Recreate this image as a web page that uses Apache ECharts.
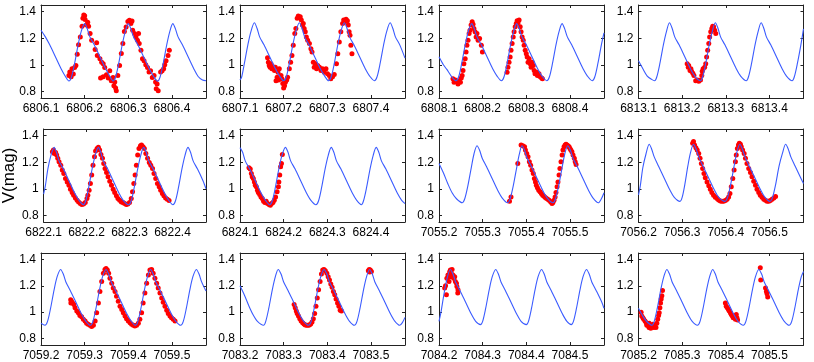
<!DOCTYPE html>
<html>
<head>
<meta charset="utf-8">
<script src="https://cdn.jsdelivr.net/npm/echarts@6/dist/echarts.min.js"></script>
<style>
  html, body { margin: 0; padding: 0; background: #fff; }
  #main { width: 814px; height: 362px; }
</style>
</head>
<body>
<div id="main"></div>
<script>
// left edge (HJD-2450000) of every panel, x data below are offsets from it
var startDays = [6806.1, 6807.1, 6808.1, 6813.1, 6822.1, 6824.1, 7055.2, 7056.2, 7059.2, 7083.2, 7084.2, 7085.2];
var xTicks = [0, 0.1, 0.2, 0.3];
var yTicks = [0.8, 1, 1.2, 1.4];

// model light curves (blue)
var curve6806 = [[0,1.26],[0.010,1.21],[0.020,1.15],[0.033,1.06],[0.046,0.97],[0.056,0.912],[0.064,0.878],[0.070,0.91],[0.077,1.01],[0.085,1.15],[0.092,1.25],[0.100,1.31],[0.106,1.27],[0.112,1.21],[0.122,1.15],[0.135,1.06],[0.148,0.97],[0.158,0.912],[0.165,0.878],[0.171,0.91],[0.178,1.01],[0.186,1.15],[0.193,1.25],[0.200,1.31],[0.206,1.27],[0.212,1.21],[0.222,1.15],[0.235,1.06],[0.248,0.97],[0.258,0.912],[0.267,0.876],[0.273,0.91],[0.280,1.01],[0.288,1.15],[0.295,1.25],[0.302,1.31],[0.308,1.27],[0.314,1.21],[0.324,1.15],[0.337,1.06],[0.350,0.97],[0.360,0.912],[0.370,0.885],[0.378,0.88]];
var curve6807 = [[0,0.885],[0.004,0.91],[0.010,1.01],[0.018,1.15],[0.025,1.25],[0.033,1.316],[0.039,1.275],[0.045,1.21],[0.055,1.15],[0.068,1.06],[0.081,0.97],[0.091,0.915],[0.100,0.88],[0.106,0.91],[0.113,1.01],[0.121,1.15],[0.128,1.25],[0.136,1.316],[0.142,1.275],[0.148,1.21],[0.158,1.15],[0.171,1.06],[0.184,0.97],[0.194,0.915],[0.203,0.88],[0.209,0.91],[0.216,1.01],[0.224,1.15],[0.231,1.25],[0.239,1.316],[0.245,1.275],[0.251,1.21],[0.261,1.15],[0.274,1.06],[0.287,0.97],[0.297,0.915],[0.308,0.88],[0.314,0.91],[0.321,1.01],[0.329,1.15],[0.336,1.25],[0.344,1.316],[0.350,1.275],[0.356,1.21],[0.366,1.15],[0.378,1.05]];
var curve6808 = [[0,1.06],[0.010,1.0],[0.018,0.965],[0.028,0.915],[0.039,0.88],[0.045,0.91],[0.052,1.01],[0.060,1.15],[0.067,1.25],[0.075,1.31],[0.081,1.27],[0.087,1.21],[0.097,1.15],[0.110,1.06],[0.123,0.97],[0.133,0.915],[0.143,0.88],[0.149,0.91],[0.156,1.01],[0.164,1.15],[0.171,1.25],[0.178,1.31],[0.184,1.27],[0.190,1.21],[0.200,1.15],[0.213,1.06],[0.226,0.97],[0.236,0.915],[0.247,0.88],[0.253,0.91],[0.260,1.01],[0.268,1.15],[0.275,1.25],[0.282,1.31],[0.288,1.27],[0.294,1.21],[0.304,1.15],[0.317,1.06],[0.330,0.97],[0.340,0.915],[0.351,0.88],[0.357,0.91],[0.364,1.01],[0.372,1.15],[0.378,1.24]];
var curve6813 = [[0,1.03],[0.010,0.97],[0.020,0.915],[0.030,0.89],[0.037,0.88],[0.042,0.91],[0.049,1.01],[0.057,1.15],[0.064,1.25],[0.071,1.316],[0.077,1.275],[0.083,1.21],[0.093,1.15],[0.106,1.06],[0.119,0.97],[0.129,0.915],[0.142,0.88],[0.147,0.91],[0.154,1.01],[0.162,1.15],[0.169,1.25],[0.176,1.316],[0.182,1.275],[0.188,1.21],[0.198,1.15],[0.211,1.06],[0.224,0.97],[0.234,0.915],[0.247,0.88],[0.252,0.91],[0.259,1.01],[0.267,1.15],[0.274,1.25],[0.281,1.316],[0.287,1.275],[0.293,1.21],[0.303,1.15],[0.316,1.06],[0.329,0.97],[0.339,0.915],[0.352,0.88],[0.357,0.91],[0.364,1.01],[0.372,1.15],[0.378,1.27]];
var curve6822 = [[0,0.96],[0.004,1.02],[0.010,1.15],[0.017,1.25],[0.0245,1.312],[0.030,1.275],[0.036,1.21],[0.046,1.15],[0.059,1.06],[0.072,0.97],[0.082,0.915],[0.093,0.88],[0.098,0.91],[0.105,1.01],[0.113,1.15],[0.120,1.25],[0.1275,1.312],[0.133,1.275],[0.139,1.21],[0.149,1.15],[0.162,1.06],[0.175,0.97],[0.185,0.915],[0.198,0.88],[0.204,0.91],[0.211,1.01],[0.219,1.15],[0.226,1.25],[0.233,1.312],[0.239,1.275],[0.245,1.21],[0.255,1.15],[0.268,1.06],[0.281,0.97],[0.291,0.915],[0.301,0.88],[0.307,0.91],[0.314,1.01],[0.322,1.15],[0.329,1.25],[0.336,1.312],[0.342,1.275],[0.348,1.21],[0.358,1.15],[0.371,1.06],[0.378,1.0]];
var curve6824 = [[0,1.31],[0.006,1.275],[0.012,1.21],[0.022,1.15],[0.035,1.06],[0.048,0.97],[0.058,0.915],[0.068,0.88],[0.074,0.91],[0.081,1.01],[0.089,1.15],[0.096,1.25],[0.104,1.312],[0.110,1.275],[0.116,1.21],[0.126,1.15],[0.139,1.06],[0.152,0.97],[0.162,0.915],[0.174,0.88],[0.180,0.91],[0.187,1.01],[0.195,1.15],[0.202,1.25],[0.209,1.312],[0.215,1.275],[0.221,1.21],[0.231,1.15],[0.244,1.06],[0.257,0.97],[0.267,0.915],[0.278,0.88],[0.283,0.91],[0.290,1.01],[0.298,1.15],[0.305,1.25],[0.312,1.312],[0.318,1.275],[0.324,1.21],[0.334,1.15],[0.347,1.06],[0.360,0.97],[0.370,0.915],[0.378,0.888]];
var curve7055 = [[0,1.19],[0.010,1.12],[0.020,1.04],[0.030,0.97],[0.040,0.925],[0.053,0.895],[0.059,0.925],[0.066,1.02],[0.074,1.16],[0.080,1.26],[0.087,1.324],[0.093,1.29],[0.099,1.23],[0.109,1.165],[0.122,1.075],[0.135,0.985],[0.145,0.93],[0.157,0.895],[0.163,0.925],[0.170,1.02],[0.178,1.16],[0.184,1.26],[0.190,1.324],[0.196,1.29],[0.202,1.23],[0.212,1.165],[0.225,1.075],[0.238,0.985],[0.248,0.93],[0.261,0.895],[0.267,0.925],[0.274,1.02],[0.282,1.16],[0.288,1.26],[0.295,1.324],[0.301,1.29],[0.307,1.23],[0.317,1.165],[0.330,1.075],[0.343,0.985],[0.353,0.93],[0.365,0.895],[0.372,0.925],[0.378,0.97]];
var curve7056 = [[0,0.955],[0.004,1.02],[0.010,1.16],[0.017,1.26],[0.0245,1.335],[0.030,1.30],[0.036,1.24],[0.046,1.17],[0.059,1.08],[0.072,0.99],[0.082,0.935],[0.095,0.905],[0.100,0.935],[0.106,1.03],[0.113,1.17],[0.119,1.27],[0.126,1.335],[0.132,1.30],[0.138,1.24],[0.148,1.17],[0.161,1.08],[0.174,0.99],[0.184,0.935],[0.198,0.905],[0.204,0.935],[0.211,1.03],[0.219,1.17],[0.225,1.27],[0.232,1.335],[0.238,1.30],[0.244,1.24],[0.254,1.17],[0.267,1.08],[0.280,0.99],[0.290,0.935],[0.301,0.905],[0.307,0.935],[0.314,1.03],[0.322,1.17],[0.330,1.27],[0.337,1.335],[0.343,1.30],[0.349,1.24],[0.359,1.17],[0.372,1.08],[0.378,1.04]];
var curve7059 = [[0,0.915],[0.009,0.90],[0.015,0.93],[0.022,1.03],[0.030,1.17],[0.037,1.27],[0.045,1.325],[0.051,1.29],[0.057,1.23],[0.067,1.165],[0.080,1.075],[0.093,0.985],[0.103,0.93],[0.113,0.90],[0.119,0.93],[0.126,1.03],[0.134,1.17],[0.141,1.27],[0.149,1.325],[0.155,1.29],[0.161,1.23],[0.171,1.165],[0.184,1.075],[0.197,0.985],[0.207,0.93],[0.216,0.90],[0.222,0.93],[0.229,1.03],[0.237,1.17],[0.244,1.27],[0.251,1.325],[0.257,1.29],[0.263,1.23],[0.273,1.165],[0.286,1.075],[0.299,0.985],[0.309,0.93],[0.320,0.90],[0.326,0.93],[0.333,1.03],[0.341,1.17],[0.348,1.27],[0.356,1.325],[0.362,1.29],[0.368,1.23],[0.378,1.16]];
var curve7083 = [[0,1.20],[0.010,1.13],[0.020,1.05],[0.030,0.98],[0.040,0.93],[0.054,0.90],[0.059,0.93],[0.066,1.03],[0.074,1.17],[0.081,1.27],[0.0875,1.325],[0.094,1.29],[0.100,1.23],[0.110,1.165],[0.123,1.075],[0.136,0.985],[0.146,0.93],[0.157,0.90],[0.163,0.93],[0.170,1.03],[0.178,1.17],[0.185,1.27],[0.1925,1.325],[0.199,1.29],[0.205,1.23],[0.215,1.165],[0.228,1.075],[0.241,0.985],[0.251,0.93],[0.262,0.90],[0.268,0.93],[0.275,1.03],[0.283,1.17],[0.290,1.27],[0.297,1.325],[0.303,1.29],[0.309,1.23],[0.319,1.165],[0.332,1.075],[0.345,0.985],[0.355,0.93],[0.366,0.90],[0.372,0.92],[0.378,0.96]];
var curve7084 = [[0,0.93],[0.004,0.99],[0.011,1.13],[0.018,1.25],[0.026,1.325],[0.032,1.29],[0.038,1.23],[0.048,1.165],[0.061,1.075],[0.074,0.985],[0.084,0.93],[0.095,0.905],[0.100,0.93],[0.107,1.03],[0.115,1.17],[0.122,1.27],[0.130,1.325],[0.136,1.29],[0.142,1.23],[0.152,1.165],[0.165,1.075],[0.178,0.985],[0.188,0.93],[0.200,0.905],[0.205,0.93],[0.212,1.03],[0.220,1.17],[0.227,1.27],[0.235,1.325],[0.241,1.29],[0.247,1.23],[0.257,1.165],[0.270,1.075],[0.283,0.985],[0.293,0.93],[0.303,0.905],[0.308,0.93],[0.315,1.03],[0.323,1.17],[0.330,1.27],[0.338,1.325],[0.344,1.29],[0.350,1.23],[0.360,1.165],[0.373,1.075],[0.378,1.03]];
var curve7085 = [[0,1.03],[0.010,0.97],[0.020,0.925],[0.031,0.90],[0.036,0.93],[0.043,1.03],[0.051,1.17],[0.058,1.27],[0.065,1.325],[0.071,1.29],[0.077,1.23],[0.087,1.165],[0.100,1.075],[0.113,0.985],[0.123,0.93],[0.135,0.90],[0.141,0.93],[0.148,1.03],[0.156,1.17],[0.163,1.27],[0.170,1.325],[0.176,1.29],[0.182,1.23],[0.192,1.165],[0.205,1.075],[0.218,0.985],[0.228,0.93],[0.240,0.90],[0.246,0.93],[0.253,1.03],[0.261,1.17],[0.268,1.27],[0.2755,1.325],[0.282,1.29],[0.288,1.23],[0.298,1.165],[0.311,1.075],[0.324,0.985],[0.334,0.93],[0.345,0.90],[0.351,0.93],[0.358,1.03],[0.366,1.17],[0.373,1.27],[0.378,1.31]];

// observations (red)
var obs6806 = [[0.064,0.92],[0.066,0.945],[0.069,0.91],[0.071,0.97],[0.074,0.93],[0.077,0.98],[0.080,0.995],[0.083,1.08],[0.086,1.15],[0.090,1.21],[0.094,1.29],[0.096,1.35],[0.098,1.375],[0.100,1.37],[0.101,1.34],[0.104,1.30],[0.107,1.32],[0.109,1.29],[0.1125,1.235],[0.116,1.185],[0.1275,1.165],[0.124,1.115],[0.129,1.07],[0.135,1.045],[0.139,1.02],[0.1425,1.008],[0.146,0.98],[0.1365,0.90],[0.1425,0.91],[0.150,0.925],[0.154,0.90],[0.1575,0.955],[0.161,0.88],[0.165,0.905],[0.169,0.87],[0.171,0.825],[0.1725,0.805],[0.167,0.843],[0.176,0.92],[0.180,0.995],[0.184,1.085],[0.1875,1.16],[0.191,1.25],[0.195,1.285],[0.199,1.325],[0.2025,1.335],[0.206,1.31],[0.2085,1.33],[0.210,1.26],[0.214,1.235],[0.2175,1.21],[0.221,1.185],[0.225,1.16],[0.2235,1.235],[0.229,1.11],[0.2325,1.045],[0.236,1.03],[0.240,1.0],[0.244,0.98],[0.2475,0.945],[0.251,0.955],[0.255,0.905],[0.259,0.92],[0.2625,0.87],[0.264,0.82],[0.2685,0.805],[0.266,0.855],[0.274,0.945],[0.2775,0.955],[0.281,0.97],[0.2835,1.0],[0.2865,1.03],[0.291,1.07],[0.294,1.11]];
var obs6807 = [[0.063,1.053],[0.065,1.02],[0.067,0.995],[0.069,0.982],[0.071,1.008],[0.073,0.97],[0.075,0.987],[0.079,0.957],[0.081,0.982],[0.0825,0.88],[0.085,0.906],[0.087,0.944],[0.090,0.97],[0.0885,0.886],[0.094,0.92],[0.096,0.894],[0.098,0.86],[0.100,0.825],[0.102,0.843],[0.104,0.868],[0.107,0.886],[0.109,0.906],[0.113,0.97],[0.116,1.02],[0.119,1.07],[0.122,1.147],[0.1255,1.235],[0.128,1.273],[0.131,1.35],[0.1335,1.367],[0.136,1.357],[0.138,1.362],[0.1405,1.337],[0.143,1.30],[0.145,1.31],[0.147,1.273],[0.1495,1.248],[0.152,1.21],[0.155,1.185],[0.159,1.16],[0.1625,1.12],[0.165,1.096],[0.168,1.02],[0.170,0.982],[0.1725,1.008],[0.1755,0.97],[0.178,0.995],[0.182,0.982],[0.1855,0.957],[0.189,0.97],[0.193,0.944],[0.197,0.97],[0.2005,0.932],[0.2045,0.92],[0.208,0.894],[0.212,0.91],[0.216,0.927],[0.221,1.008],[0.224,1.084],[0.2275,1.172],[0.231,1.248],[0.235,1.31],[0.2375,1.337],[0.240,1.324],[0.243,1.342],[0.246,1.332],[0.248,1.30],[0.250,1.248],[0.252,1.223],[0.254,1.147],[0.2565,1.084]];
var obs6808 = [[0.032,0.894],[0.0345,0.868],[0.0375,0.886],[0.041,0.874],[0.0435,0.856],[0.046,0.88],[0.049,0.868],[0.051,0.90],[0.053,0.92],[0.055,0.957],[0.057,1.008],[0.060,1.046],[0.062,1.096],[0.064,1.147],[0.0665,1.185],[0.069,1.235],[0.071,1.26],[0.0735,1.30],[0.076,1.324],[0.078,1.306],[0.080,1.273],[0.0825,1.248],[0.085,1.21],[0.087,1.235],[0.0895,1.185],[0.093,1.197],[0.097,1.147],[0.0995,1.096],[0.156,0.944],[0.158,0.982],[0.1605,1.02],[0.163,1.058],[0.165,1.109],[0.1675,1.16],[0.170,1.21],[0.172,1.248],[0.1745,1.286],[0.177,1.31],[0.179,1.332],[0.181,1.316],[0.1835,1.337],[0.186,1.286],[0.188,1.248],[0.1905,1.21],[0.193,1.185],[0.195,1.147],[0.1975,1.109],[0.200,1.084],[0.202,1.058],[0.204,1.02],[0.2065,1.046],[0.209,1.008],[0.211,0.982],[0.2135,1.02],[0.216,0.995],[0.218,0.957],[0.220,0.932],[0.2235,0.944],[0.2255,0.92],[0.229,0.932],[0.231,0.911],[0.235,0.90],[0.237,0.894]];
var obs6813 = [[0.1115,1.008],[0.114,0.982],[0.115,0.995],[0.118,0.957],[0.120,0.97],[0.1215,0.952],[0.1245,0.937],[0.127,0.92],[0.131,0.88],[0.135,0.886],[0.138,0.876],[0.142,0.886],[0.145,0.92],[0.146,0.952],[0.148,0.97],[0.1515,0.982],[0.154,1.008],[0.156,1.058],[0.1585,1.109],[0.161,1.16],[0.163,1.21],[0.1655,1.248],[0.168,1.273],[0.170,1.29],[0.172,1.286],[0.1745,1.26],[0.177,1.235]];
var obs6822 = [[0.0205,1.279],[0.023,1.292],[0.025,1.266],[0.028,1.274],[0.0305,1.254],[0.033,1.229],[0.036,1.204],[0.040,1.178],[0.0435,1.141],[0.047,1.115],[0.051,1.078],[0.055,1.052],[0.059,1.027],[0.0625,0.997],[0.0665,0.972],[0.070,0.952],[0.074,0.931],[0.078,0.914],[0.0815,0.901],[0.0855,0.889],[0.089,0.881],[0.093,0.886],[0.097,0.896],[0.101,0.926],[0.103,0.952],[0.106,0.989],[0.109,1.04],[0.112,1.103],[0.115,1.178],[0.1185,1.241],[0.121,1.284],[0.1245,1.304],[0.1275,1.312],[0.1305,1.292],[0.1335,1.259],[0.137,1.229],[0.140,1.191],[0.143,1.153],[0.1465,1.123],[0.150,1.09],[0.154,1.057],[0.158,1.027],[0.162,0.997],[0.1655,0.972],[0.1695,0.947],[0.173,0.926],[0.177,0.914],[0.181,0.901],[0.185,0.896],[0.1885,0.889],[0.1925,0.881],[0.196,0.886],[0.200,0.896],[0.204,0.926],[0.207,0.977],[0.210,1.04],[0.213,1.103],[0.216,1.178],[0.219,1.254],[0.222,1.304],[0.2255,1.324],[0.228,1.329],[0.2315,1.317],[0.2345,1.304],[0.238,1.266],[0.242,1.229],[0.246,1.198],[0.2495,1.178],[0.2535,1.153],[0.257,1.115],[0.261,1.078],[0.265,1.04],[0.269,1.015],[0.2725,0.989],[0.2765,0.964],[0.280,0.947],[0.284,0.931],[0.288,0.921],[0.292,0.911]];
var obs6824 = [[0.0205,1.158],[0.0235,1.148],[0.026,1.115],[0.028,1.09],[0.0305,1.078],[0.033,1.052],[0.035,1.027],[0.0375,1.015],[0.040,0.989],[0.042,0.972],[0.045,0.957],[0.048,0.939],[0.051,0.926],[0.054,0.906],[0.057,0.896],[0.060,0.906],[0.063,0.889],[0.0665,0.881],[0.0695,0.876],[0.0725,0.889],[0.0755,0.896],[0.0785,0.914],[0.0815,0.939],[0.085,0.977],[0.088,1.015],[0.089,1.052],[0.091,1.103],[0.093,1.166],[0.095,1.191],[0.097,1.259]];
var obs7055 = [[0.1615,0.906],[0.165,0.939],[0.1805,1.191],[0.188,1.329],[0.192,1.324],[0.196,1.317],[0.198,1.292],[0.201,1.266],[0.204,1.241],[0.207,1.204],[0.210,1.178],[0.213,1.141],[0.216,1.115],[0.2185,1.078],[0.221,1.052],[0.223,1.027],[0.2255,1.007],[0.2285,0.989],[0.2315,0.977],[0.2345,0.964],[0.2375,0.952],[0.2405,0.944],[0.2435,0.934],[0.2465,0.926],[0.250,0.919],[0.253,0.911],[0.256,0.901],[0.259,0.889],[0.261,0.896],[0.2635,0.914],[0.266,0.939],[0.268,0.972],[0.2705,1.015],[0.2725,1.052],[0.275,1.103],[0.277,1.153],[0.2795,1.204],[0.282,1.254],[0.284,1.292],[0.2865,1.317],[0.289,1.329],[0.291,1.335],[0.293,1.329],[0.2955,1.324],[0.298,1.317],[0.300,1.304],[0.302,1.292],[0.3045,1.279],[0.307,1.254],[0.310,1.229],[0.312,1.204],[0.314,1.183]];
var obs7056 = [[0.124,1.342],[0.126,1.355],[0.1285,1.329],[0.1315,1.309],[0.1345,1.292],[0.138,1.266],[0.141,1.229],[0.144,1.191],[0.147,1.153],[0.150,1.115],[0.153,1.083],[0.157,1.052],[0.161,1.022],[0.1645,0.997],[0.168,0.972],[0.172,0.952],[0.176,0.937],[0.180,0.926],[0.1835,0.916],[0.1875,0.909],[0.191,0.906],[0.195,0.906],[0.199,0.911],[0.203,0.921],[0.2065,0.939],[0.2095,0.964],[0.2125,1.015],[0.216,1.078],[0.219,1.141],[0.222,1.204],[0.224,1.254],[0.2265,1.304],[0.229,1.329],[0.231,1.342],[0.2335,1.335],[0.2355,1.317],[0.2385,1.292],[0.242,1.266],[0.245,1.229],[0.2485,1.191],[0.2525,1.153],[0.2565,1.123],[0.260,1.09],[0.264,1.057],[0.268,1.027],[0.2715,0.997],[0.2755,0.972],[0.279,0.952],[0.283,0.937],[0.287,0.921],[0.291,0.914],[0.2945,0.906],[0.2985,0.906],[0.302,0.911],[0.306,0.921],[0.310,0.931],[0.314,0.942]];
var obs7059 = [[0.068,1.095],[0.070,1.083],[0.0725,1.07],[0.0755,1.058],[0.0685,1.07],[0.078,1.033],[0.082,1.008],[0.0855,0.995],[0.089,0.975],[0.093,0.965],[0.097,0.945],[0.101,0.933],[0.1045,0.915],[0.108,0.908],[0.112,0.90],[0.116,0.89],[0.120,0.90],[0.124,0.933],[0.1275,0.995],[0.1315,1.07],[0.135,1.158],[0.139,1.233],[0.143,1.295],[0.1465,1.325],[0.149,1.333],[0.152,1.32],[0.155,1.295],[0.158,1.258],[0.162,1.22],[0.1655,1.183],[0.1695,1.158],[0.173,1.12],[0.177,1.083],[0.181,1.045],[0.185,1.02],[0.1885,0.995],[0.1925,0.97],[0.196,0.95],[0.200,0.933],[0.204,0.92],[0.2075,0.908],[0.2115,0.90],[0.215,0.895],[0.219,0.90],[0.223,0.915],[0.2265,0.945],[0.2305,0.995],[0.234,1.07],[0.238,1.145],[0.242,1.22],[0.246,1.283],[0.2495,1.32],[0.2535,1.325],[0.257,1.295],[0.261,1.258],[0.265,1.22],[0.2685,1.183],[0.2725,1.145],[0.2765,1.108],[0.280,1.075],[0.284,1.045],[0.288,1.015],[0.2915,0.99],[0.2955,0.97],[0.299,0.958],[0.303,0.945],[0.307,0.933]];
var obs7083 = [[0.124,1.058],[0.1265,1.033],[0.129,1.008],[0.131,0.99],[0.134,0.97],[0.137,0.95],[0.140,0.933],[0.1435,0.92],[0.1465,0.91],[0.1495,0.903],[0.153,0.90],[0.156,0.90],[0.159,0.903],[0.162,0.91],[0.165,0.925],[0.168,0.95],[0.171,0.99],[0.174,1.045],[0.177,1.108],[0.180,1.17],[0.1835,1.233],[0.1865,1.29],[0.1895,1.32],[0.1925,1.325],[0.1955,1.315],[0.199,1.295],[0.202,1.27],[0.205,1.245],[0.208,1.215],[0.211,1.19],[0.214,1.158],[0.217,1.133],[0.220,1.10],[0.2235,1.07],[0.2265,1.045],[0.2295,1.015],[0.2325,1.008],[0.294,1.315],[0.296,1.325],[0.2985,1.32],[0.301,1.31],[0.297,1.305]];
var obs7084 = [[0.013,1.183],[0.015,1.20],[0.017,1.133],[0.018,1.258],[0.0205,1.283],[0.023,1.27],[0.0245,1.308],[0.026,1.32],[0.028,1.295],[0.030,1.325],[0.032,1.283],[0.0335,1.258],[0.036,1.27],[0.0375,1.233],[0.040,1.22],[0.041,1.195],[0.0435,1.17],[0.043,1.145],[0.023,1.233],[0.027,1.27]];
var obs7085 = [[0.006,1.00],[0.0075,0.97],[0.010,0.958],[0.012,0.945],[0.015,0.933],[0.0175,0.92],[0.020,0.915],[0.022,0.90],[0.024,0.883],[0.026,0.895],[0.028,0.878],[0.0305,0.89],[0.033,0.908],[0.035,0.883],[0.0375,0.90],[0.040,0.883],[0.042,0.915],[0.044,0.945],[0.046,0.975],[0.0475,0.995],[0.049,1.033],[0.0505,1.07],[0.052,1.10],[0.0535,1.125],[0.055,1.165],[0.019,0.90],[0.0245,0.915],[0.199,1.07],[0.201,1.045],[0.2035,1.033],[0.206,1.02],[0.208,1.008],[0.2105,0.995],[0.2125,0.983],[0.215,0.97],[0.217,0.958],[0.2195,0.965],[0.222,0.945],[0.224,0.983],[0.2255,0.958],[0.227,0.94],[0.279,1.338],[0.280,1.245],[0.291,1.183],[0.293,1.158],[0.2945,1.14],[0.296,1.115]];

var curves = [curve6806, curve6807, curve6808, curve6813, curve6822, curve6824, curve7055, curve7056, curve7059, curve7083, curve7084, curve7085];
var observations = [obs6806, obs6807, obs6808, obs6813, obs6822, obs6824, obs7055, obs7056, obs7059, obs7083, obs7084, obs7085];

var colLeft = [41, 240, 439, 638.5];
var rowTop = [5, 129, 253];
var panelW = 165, panelH = 93;
var xSpan = 0.378;

var chart = echarts.init(document.getElementById('main'));

var grids = [], xAxes = [], yAxes = [], series = [];
var axisColor = '#222';
var labelFont = { color: '#000', fontSize: 12, fontFamily: 'Liberation Sans' };

startDays.forEach(function (day, i) {
    var r = Math.floor(i / 4), c = i % 4;
    grids.push({ left: colLeft[c], top: rowTop[r], width: panelW, height: panelH });

    // bottom + top x axes (top one just closes the box)
    xAxes.push({
        type: 'value', gridIndex: i, min: 0, max: xSpan, position: 'bottom',
        axisLine: { onZero: false, lineStyle: { color: axisColor, width: 1 } },
        axisTick: { inside: true, length: 3, customValues: xTicks, lineStyle: { color: axisColor } },
        axisLabel: Object.assign({ margin: 5, customValues: xTicks,
            formatter: function (v) { return (day + v).toFixed(1); } }, labelFont),
        splitLine: { show: false }
    });
    xAxes.push({
        type: 'value', gridIndex: i, min: 0, max: xSpan, position: 'top',
        axisLine: { onZero: false, lineStyle: { color: axisColor, width: 1 } },
        axisTick: { inside: true, length: 3, customValues: xTicks, lineStyle: { color: axisColor } },
        axisLabel: { show: false },
        splitLine: { show: false }
    });

    var yLeft = {
        type: 'value', gridIndex: i, min: 0.75, max: 1.45, position: 'left',
        axisLine: { show: true, onZero: false, lineStyle: { color: axisColor, width: 1 } },
        axisTick: { show: true, inside: true, length: 3, customValues: yTicks, lineStyle: { color: axisColor } },
        axisLabel: Object.assign({ margin: 5, customValues: yTicks }, labelFont),
        splitLine: { show: false }
    };
    if (i === 4) {
        yLeft.name = 'V(mag)';
        yLeft.nameLocation = 'middle';
        yLeft.nameGap = 21;
        yLeft.nameTextStyle = { color: '#000', fontSize: 17, fontFamily: 'Liberation Sans' };
    }
    yAxes.push(yLeft);
    yAxes.push({
        type: 'value', gridIndex: i, min: 0.75, max: 1.45, position: 'right',
        axisLine: { show: true, onZero: false, lineStyle: { color: axisColor, width: 1 } },
        axisTick: { show: true, inside: true, length: 3, customValues: yTicks, lineStyle: { color: axisColor } },
        axisLabel: { show: false },
        splitLine: { show: false }
    });

    series.push({
        type: 'scatter', xAxisIndex: 2 * i, yAxisIndex: 2 * i,
        data: observations[i], symbol: 'circle', symbolSize: 5,
        itemStyle: { color: '#ff0000', opacity: 1 }, z: 2, silent: true
    });
    series.push({
        type: 'line', xAxisIndex: 2 * i, yAxisIndex: 2 * i,
        data: curves[i], showSymbol: false, smooth: 0.3,
        lineStyle: { color: '#3a5bff', width: 1.1 }, z: 3, silent: true
    });
});

chart.setOption({
    animation: false,
    grid: grids,
    xAxis: xAxes,
    yAxis: yAxes,
    series: series
});
</script>
</body>
</html>
